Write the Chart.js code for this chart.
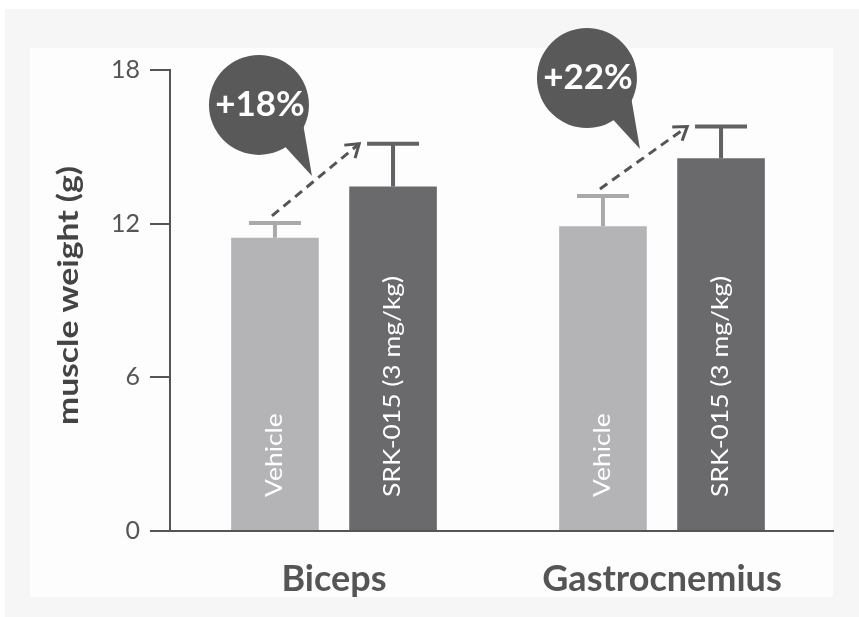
<!DOCTYPE html>
<html>
<head>
<meta charset="utf-8">
<script src="https://cdn.jsdelivr.net/npm/chart.js@4.4.1/dist/chart.umd.min.js"></script>
<style>
  html, body { margin: 0; padding: 0; background: #fff; }
  canvas { display: block; }
</style>
</head>
<body>
<canvas id="muscleChart" width="859" height="617"></canvas>
<script>
// values
const muscles = ['Biceps', 'Gastrocnemius'];
const groupNames = ['Vehicle', 'SRK-015 (3 mg/kg)'];
const vehicleMean = [11.45, 11.9];
const vehicleErr = [0.58, 1.18];
const srkMean = [13.45, 14.55];
const srkErr = [1.67, 1.24];
const changeLabels = ['+18%', '+22%'];
const yTicks = [0, 6, 12, 18];

// light gray panel behind everything
const panelBg = {
    id: 'panelBg',
    beforeDraw(chart) {
        const c = chart.ctx;
        c.save();
        c.fillStyle = '#ffffff';
        c.fillRect(0, 0, chart.width, chart.height);
        c.fillStyle = '#f6f6f6';
        c.fillRect(5, 9, chart.width - 5, chart.height - 9);
        c.fillStyle = '#fdfdfd';
        c.fillRect(30, 48, 803, 549);
        c.restore();
    },
    afterDraw(chart) {
        // the baseline runs a little past the last bar group
        const c = chart.ctx;
        const base = chart.scales.y.getPixelForValue(0);
        c.save();
        c.strokeStyle = '#555555';
        c.lineWidth = 2;
        c.beginPath();
        c.moveTo(chart.chartArea.right - 1, base);
        c.lineTo(chart.chartArea.right + 8, base);
        c.stroke();
        c.restore();
    }
};

// upper error bars only
const errorBars = {
    id: 'errorBars',
    afterDatasetsDraw(chart) {
        const c = chart.ctx;
        const y = chart.scales.y;
        chart.data.datasets.forEach((ds, di) => {
            chart.getDatasetMeta(di).data.forEach((bar, i) => {
                const top = y.getPixelForValue(ds.data[i] + ds.errors[i]);
                c.save();
                c.strokeStyle = ds.errColor;
                c.lineWidth = 4;
                c.beginPath();
                c.moveTo(bar.x, bar.y);
                c.lineTo(bar.x, top);
                c.moveTo(bar.x - 26, top);
                c.lineTo(bar.x + 26, top);
                c.stroke();
                c.restore();
            });
        });
    }
};

// rotated text, stretched along its length like the original
function verticalText(c, text, x, y, font, color, stretch, align, baseline) {
    c.save();
    c.translate(x, y);
    c.rotate(-Math.PI / 2);
    c.scale(stretch, 1);
    c.font = font;
    c.fillStyle = color;
    c.textAlign = align;
    c.textBaseline = baseline;
    c.fillText(text, 0, 0);
    c.restore();
}

// group names inside the bars + y axis title
const barText = {
    id: 'barText',
    afterDatasetsDraw(chart) {
        const c = chart.ctx;
        const base = chart.scales.y.getPixelForValue(0);
        chart.data.datasets.forEach((ds, di) => {
            chart.getDatasetMeta(di).data.forEach(bar => {
                verticalText(c, ds.label, bar.x, base - 34, '23px Lato', '#ffffff', 1.15, 'left', 'middle');
            });
        });
        const mid = (chart.chartArea.top + chart.chartArea.bottom) / 2 - 5;
        verticalText(c, 'muscle weight (g)', 78, mid, 'bold 28px Lato', '#444444', 1.2, 'center', 'alphabetic');
    }
};

// speech bubbles with the % change and dashed arrows
const callouts = {
    id: 'callouts',
    afterDatasetsDraw(chart) {
        const c = chart.ctx;
        const y = chart.scales.y;
        const veh = chart.getDatasetMeta(0).data;
        const srk = chart.getDatasetMeta(1).data;
        changeLabels.forEach((label, i) => {
            const vTop = y.getPixelForValue(vehicleMean[i] + vehicleErr[i]);
            const sTop = y.getPixelForValue(srkMean[i] + srkErr[i]);

            // bubble
            const cx = veh[i].x - 16, cy = vTop - 118, r = 50;
            c.save();
            c.fillStyle = '#595959';
            c.beginPath();
            c.arc(cx, cy, r, 0, Math.PI * 2);
            c.fill();
            const a1 = 25 * Math.PI / 180, a2 = 58 * Math.PI / 180;
            c.beginPath();
            c.moveTo(cx + 49 * Math.cos(a1), cy + 49 * Math.sin(a1));
            c.lineTo(cx + 53, cy + 71);
            c.lineTo(cx + 49 * Math.cos(a2), cy + 49 * Math.sin(a2));
            c.closePath();
            c.fill();
            c.fillStyle = '#ffffff';
            c.font = 'bold 35px Lato';
            c.textAlign = 'center';
            c.textBaseline = 'middle';
            c.fillText(label, cx + 1, cy);
            c.restore();

            // dashed arrow
            const x0 = veh[i].x - 3, y0 = vTop - 7;
            const x1 = srk[i].x - srk[i].width / 2 + 10, y1 = sTop;
            const ang = Math.atan2(y1 - y0, x1 - x0);
            c.save();
            c.strokeStyle = '#555555';
            c.lineWidth = 3;
            c.setLineDash([9, 6]);
            c.beginPath();
            c.moveTo(x0, y0);
            c.lineTo(x1, y1);
            c.stroke();
            c.setLineDash([]);
            c.beginPath();
            c.moveTo(x1 - 15 * Math.cos(ang - 0.6), y1 - 15 * Math.sin(ang - 0.6));
            c.lineTo(x1, y1);
            c.lineTo(x1 - 15 * Math.cos(ang + 0.6), y1 - 15 * Math.sin(ang + 0.6));
            c.stroke();
            c.restore();
        });
    }
};

new Chart(document.getElementById('muscleChart'), {
    type: 'bar',
    data: {
        labels: muscles,
        datasets: [{
            label: groupNames[0],
            data: vehicleMean,
            errors: vehicleErr,
            errColor: '#a9a9ab',
            backgroundColor: '#b4b4b6',
            categoryPercentage: 0.72,
            barPercentage: 0.742
        }, {
            label: groupNames[1],
            data: srkMean,
            errors: srkErr,
            errColor: '#626265',
            backgroundColor: '#6a6a6d',
            categoryPercentage: 0.72,
            barPercentage: 0.742
        }]
    },
    options: {
        responsive: false,
        animation: false,
        devicePixelRatio: 1,
        layout: { padding: { top: 70, right: 33, left: 0, bottom: 0 } },
        plugins: {
            legend: { display: false },
            tooltip: { enabled: false }
        },
        scales: {
            x: {
                grid: { display: false },
                border: { display: true, color: '#555555', width: 2 },
                ticks: {
                    color: '#555555',
                    padding: 19,
                    font: { family: 'Lato', size: 36, weight: 'bold' }
                },
                afterFit(s) { s.height = 86; }
            },
            y: {
                min: yTicks[0],
                max: yTicks[yTicks.length - 1],
                afterBuildTicks(s) { s.ticks = yTicks.map(v => ({ value: v })); },
                ticks: {
                    color: '#555555',
                    padding: 10,
                    font: { family: 'Lato', size: 25 }
                },
                grid: { drawOnChartArea: false, drawTicks: true, tickLength: 20, color: '#555555', lineWidth: 2 },
                border: { display: true, color: '#555555', width: 2 },
                afterFit(s) { s.width = 170; }
            }
        }
    },
    plugins: [panelBg, errorBars, callouts, barText]
});
</script>
</body>
</html>
